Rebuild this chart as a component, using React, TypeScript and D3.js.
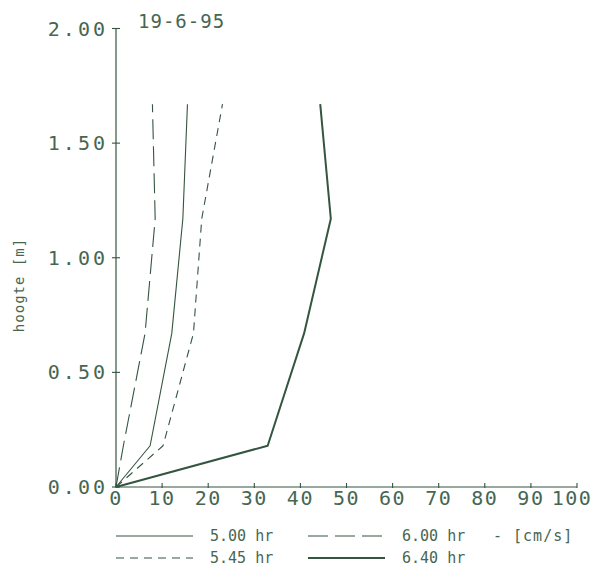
import React from "react";
import * as d3 from "d3";

// Velocity profiles, 19-6-95
const heights = [0, 0.18, 0.67, 1.17, 1.67];
const v500 = [0, 7.4, 12.1, 14.5, 15.5];
const v545 = [0, 10.2, 16.8, 18.6, 23.1];
const v600 = [0, 1.6, 6.3, 8.5, 7.9];
const v640 = [0, 32.9, 40.8, 46.6, 44.3];

const xTicks = [0, 10, 20, 30, 40, 50, 60, 70, 80, 90, 100];
const yTicks = [0, 0.5, 1.0, 1.5, 2.0];

const series = [
  { label: "5.00 hr", values: v500, width: 1.1, dash: "" },
  { label: "5.45 hr", values: v545, width: 1.1, dash: "8,6" },
  { label: "6.00 hr", values: v600, width: 1.1, dash: "20,7" },
  { label: "6.40 hr", values: v640, width: 2, dash: "" },
];

const INK = "#34553f";
const TEXT_INK = "#476652";
const FONT = "'DejaVu Sans Mono', monospace";

export default function App() {
  const W = 597;
  const H = 567;
  const x = d3.scaleLinear().domain([0, 100]).range([116, 577]);
  const y = d3.scaleLinear().domain([0, 2]).range([487, 28.5]);

  const line = d3
    .line<[number, number]>()
    .x((d) => x(d[0]))
    .y((d) => y(d[1]));

  const legend = [
    { s: series[0], lx: 116, ly: 541 },
    { s: series[2], lx: 308, ly: 541 },
    { s: series[1], lx: 116, ly: 563 },
    { s: series[3], lx: 308, ly: 563 },
  ];

  return (
    <svg
      width={W}
      height={H}
      style={{ position: "absolute", left: 0, top: 0, background: "#fff" }}
    >
      {/* axes */}
      <line x1={x(0)} x2={x(0)} y1={y(0)} y2={y(2)} stroke={INK} strokeWidth={1.2} />
      <line x1={x(0)} x2={x(100)} y1={y(0)} y2={y(0)} stroke={INK} strokeWidth={1.2} />
      {yTicks.map((t) => (
        <g key={"y" + t}>
          <line x1={x(0) - 4} x2={x(0) + 4} y1={y(t)} y2={y(t)} stroke={INK} strokeWidth={1.1} />
          <text
            x={108}
            y={y(t) + 7}
            textAnchor="end"
            fontFamily={FONT}
            fontSize={20}
            letterSpacing={3}
            fill={TEXT_INK}
          >
            {t.toFixed(2)}
          </text>
        </g>
      ))}
      {xTicks.map((t) => (
        <g key={"x" + t}>
          <line x1={x(t)} x2={x(t)} y1={y(0) - 4} y2={y(0) + 1} stroke={INK} strokeWidth={1.1} />
          <text
            x={t === 100 ? x(t) - 5 : x(t)}
            y={505}
            textAnchor="middle"
            fontFamily={FONT}
            fontSize={20}
            letterSpacing={1.5}
            fill={TEXT_INK}
          >
            {t}
          </text>
        </g>
      ))}
      <text x={138} y={28} fontFamily={FONT} fontSize={19} fill={TEXT_INK} letterSpacing={1}>
        19-6-95
      </text>
      <text
        transform={`translate(24,${285}) rotate(-90)`}
        textAnchor="middle"
        fontFamily={FONT}
        fontSize={14}
        letterSpacing={1}
        fill={TEXT_INK}
      >
        hoogte [m]
      </text>

      {/* profiles */}
      {series.map((s) => (
        <path
          key={s.label}
          d={line(s.values.map((v, i) => [v, heights[i]] as [number, number])) || ""}
          fill="none"
          stroke={INK}
          strokeWidth={s.width}
          strokeDasharray={s.dash}
          strokeLinejoin="round"
        />
      ))}

      {/* legend */}
      {legend.map(({ s, lx, ly }) => (
        <g key={"l" + s.label}>
          <line
            x1={lx}
            x2={lx + 77}
            y1={ly - 5}
            y2={ly - 5}
            stroke={INK}
            strokeWidth={s.width}
            strokeDasharray={s.dash}
          />
          <text x={lx + 94} y={ly} fontFamily={FONT} fontSize={15} fill={TEXT_INK}>
            {s.label}
          </text>
        </g>
      ))}
      <text x={493} y={541} fontFamily={FONT} fontSize={15} letterSpacing={1} fill={TEXT_INK}>
        - [cm/s]
      </text>
    </svg>
  );
}
